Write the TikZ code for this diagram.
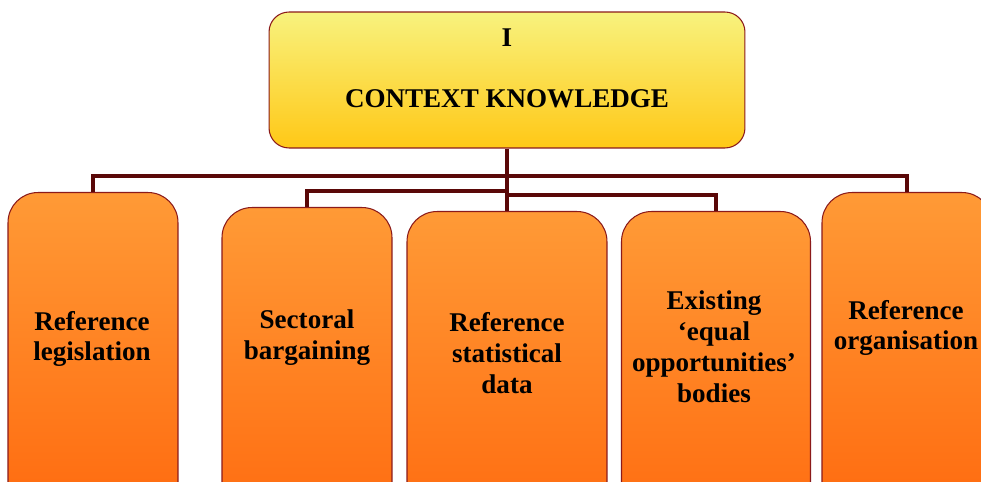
\documentclass[tikz,border=0pt]{standalone}
\usepackage{fontspec}
\setmainfont{Liberation Serif}
\usepackage{tikz}

\definecolor{edgered}{HTML}{8B1A1A}
\definecolor{wirecol}{HTML}{5A0808}
\definecolor{titletop}{HTML}{F8F27E}
\definecolor{titlebot}{HTML}{FFC816}
\definecolor{leaftop}{HTML}{FF9A36}
\definecolor{leafbot}{HTML}{FF690E}

\begin{document}
\begin{tikzpicture}[x=0.02cm,y=-0.02cm,
        topbox/.style={draw=edgered,line width=0.6pt,rounded corners=0.4cm,top color=titletop,bottom color=titlebot,minimum width=9.52cm,minimum height=2.72cm},
        leaf/.style={draw=edgered,line width=0.6pt,rounded corners=0.6cm,top color=leaftop,bottom color=leafbot,anchor=north,minimum height=6.6cm},
        word/.style={align=center,font=\fontsize{15.4}{17.6}\selectfont\bfseries},
        bus/.style={draw=wirecol,line width=2.3pt}]
        \path[use as bounding box,clip] (0,0) rectangle (981,482);

        \node[topbox] (ctx) at (507,80) {};
        \node[word] (ctxtxt) at (507,68) {I\\[0.6cm]CONTEXT KNOWLEDGE};

        \node[leaf,minimum width=3.4cm] (leg) at (93,192) {};
        \node[leaf,minimum width=3.4cm] (sect) at (307,207) {};
        \node[leaf,minimum width=4cm] (stat) at (507,211) {};
        \node[leaf,minimum width=3.78cm] (equal) at (716,211) {};
        \node[leaf,minimum width=3.4cm] (org) at (907,192) {};

        \node[word] (legtxt) at (92,339) {Reference\\legislation};
        \node[word] (secttxt) at (307,338) {Sectoral\\bargaining};
        \node[word] (stattxt) at (507,353) {Reference\\statistical\\data};
        \node[word] (equaltxt) at (714,347) {Existing\\‘equal\\opportunities’\\bodies};
        \node[word] (orgtxt) at (906,328) {Reference\\organisation};

        % connectors
        \coordinate (busA) at (507,176);
        \coordinate (busB) at (507,191);
        \coordinate (busC) at (507,195);
        \draw[bus] (ctx.south) -- (stat.north);
        \draw[bus] (leg.north) |- (busA) -| (org.north);
        \draw[bus] (sect.north) |- (busB);
        \draw[bus] (busC) -| (equal.north);
    \end{tikzpicture}
\end{document}
